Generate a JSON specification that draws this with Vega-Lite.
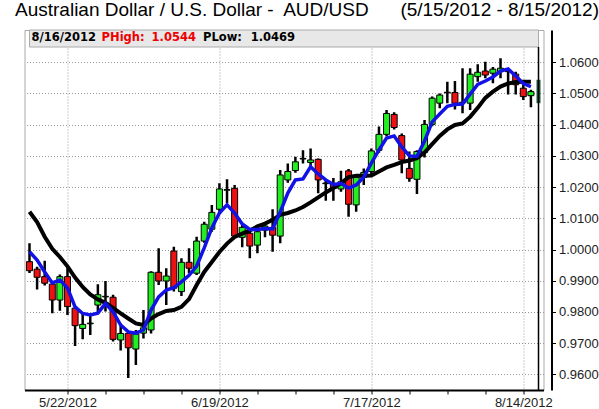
{
  "$schema": "https://vega.github.io/schema/vega-lite/v6.json",
  "width": 519,
  "height": 360,
  "autosize": {"type": "none"},
  "padding": {"left": 24.5, "top": 30, "right": 55.5, "bottom": 19},
  "background": "white",
  "config": {"view": {"stroke": "#aaaaaa", "strokeWidth": 1}, "font": "Liberation Sans", "axis": {"labelOverlap": false, "labelSeparation": 0}},
  "title": {
    "text": "Australian Dollar / U.S. Dollar -\u00a0 AUD/USD\u00a0\u00a0\u00a0\u00a0\u00a0 (5/15/2012 - 8/15/2012)",
    "anchor": "start", "frame": "group", "dx": -9.5, "offset": 10,
    "fontSize": 19, "fontWeight": "normal", "font": "Liberation Sans", "color": "#000000"
  },
  "datasets": {
    "candles": [
      {"i":0,"date":"5/15/2012","o":0.9961,"h":1.0020,"l":0.9925,"c":0.9932,"f":0.9993,"s":1.0121},
      {"i":1,"date":"5/16/2012","o":0.9937,"h":0.9945,"l":0.9872,"c":0.9911,"f":0.9966,"s":1.0088},
      {"i":2,"date":"5/17/2012","o":0.9913,"h":0.9964,"l":0.9885,"c":0.9892,"f":0.9928,"s":1.0041},
      {"i":3,"date":"5/18/2012","o":0.9889,"h":0.9897,"l":0.9796,"c":0.9838,"f":0.9893,"s":1.0002},
      {"i":4,"date":"5/21/2012","o":0.9838,"h":0.9920,"l":0.9804,"c":0.9913,"f":0.9902,"s":0.9976},
      {"i":5,"date":"5/22/2012","o":0.9913,"h":0.9940,"l":0.9790,"c":0.9817,"f":0.9877,"s":0.9946},
      {"i":6,"date":"5/23/2012","o":0.9812,"h":0.9815,"l":0.9691,"c":0.9756,"f":0.9816,"s":0.9910},
      {"i":7,"date":"5/24/2012","o":0.9747,"h":0.9796,"l":0.9712,"c":0.9760,"f":0.9795,"s":0.9880},
      {"i":8,"date":"5/25/2012","o":0.9762,"h":0.9796,"l":0.9726,"c":0.9764,"f":0.9790,"s":0.9856},
      {"i":9,"date":"5/28/2012","o":0.9822,"h":0.9889,"l":0.9798,"c":0.9855,"f":0.9796,"s":0.9840},
      {"i":10,"date":"5/29/2012","o":0.9848,"h":0.9899,"l":0.9801,"c":0.9850,"f":0.9827,"s":0.9829},
      {"i":11,"date":"5/30/2012","o":0.9847,"h":0.9855,"l":0.9705,"c":0.9712,"f":0.9800,"s":0.9813},
      {"i":12,"date":"5/31/2012","o":0.9710,"h":0.9763,"l":0.9676,"c":0.9731,"f":0.9758,"s":0.9795},
      {"i":13,"date":"6/1/2012","o":0.9731,"h":0.9737,"l":0.9588,"c":0.9685,"f":0.9736,"s":0.9779},
      {"i":14,"date":"6/4/2012","o":0.9681,"h":0.9742,"l":0.9630,"c":0.9729,"f":0.9732,"s":0.9763},
      {"i":15,"date":"6/5/2012","o":0.9732,"h":0.9806,"l":0.9715,"c":0.9749,"f":0.9742,"s":0.9758},
      {"i":16,"date":"6/6/2012","o":0.9742,"h":0.9930,"l":0.9731,"c":0.9927,"f":0.9806,"s":0.9779},
      {"i":17,"date":"6/7/2012","o":0.9927,"h":1.0004,"l":0.9886,"c":0.9899,"f":0.9848,"s":0.9793},
      {"i":18,"date":"6/8/2012","o":0.9899,"h":0.9940,"l":0.9822,"c":0.9915,"f":0.9870,"s":0.9803},
      {"i":19,"date":"6/11/2012","o":0.9995,"h":1.0009,"l":0.9865,"c":0.9876,"f":0.9878,"s":0.9806},
      {"i":20,"date":"6/12/2012","o":0.9865,"h":0.9972,"l":0.9851,"c":0.9959,"f":0.9896,"s":0.9816},
      {"i":21,"date":"6/13/2012","o":0.9959,"h":1.0004,"l":0.9924,"c":0.9940,"f":0.9917,"s":0.9841},
      {"i":22,"date":"6/14/2012","o":0.9924,"h":1.0041,"l":0.9918,"c":1.0027,"f":0.9947,"s":0.9886},
      {"i":23,"date":"6/15/2012","o":1.0027,"h":1.0089,"l":1.0022,"c":1.0081,"f":1.0005,"s":0.9928},
      {"i":24,"date":"6/18/2012","o":1.0065,"h":1.0143,"l":1.0057,"c":1.0119,"f":1.0069,"s":0.9960},
      {"i":25,"date":"6/19/2012","o":1.0129,"h":1.0212,"l":1.0121,"c":1.0194,"f":1.0117,"s":0.9992},
      {"i":26,"date":"6/20/2012","o":1.0190,"h":1.0225,"l":1.0148,"c":1.0192,"f":1.0143,"s":1.0019},
      {"i":27,"date":"6/21/2012","o":1.0196,"h":1.0207,"l":1.0040,"c":1.0043,"f":1.0117,"s":1.0040},
      {"i":28,"date":"6/22/2012","o":1.0039,"h":1.0079,"l":1.0007,"c":1.0071,"f":1.0082,"s":1.0051},
      {"i":29,"date":"6/25/2012","o":1.0052,"h":1.0056,"l":0.9972,"c":1.0011,"f":1.0064,"s":1.0061},
      {"i":30,"date":"6/26/2012","o":1.0014,"h":1.0073,"l":0.9988,"c":1.0057,"f":1.0064,"s":1.0074},
      {"i":31,"date":"6/27/2012","o":1.0062,"h":1.0084,"l":1.0039,"c":1.0075,"f":1.0067,"s":1.0083},
      {"i":32,"date":"6/28/2012","o":1.0071,"h":1.0129,"l":0.9993,"c":1.0046,"f":1.0066,"s":1.0095},
      {"i":33,"date":"6/29/2012","o":1.0043,"h":1.0255,"l":1.0020,"c":1.0239,"f":1.0120,"s":1.0111},
      {"i":34,"date":"7/2/2012","o":1.0223,"h":1.0276,"l":1.0214,"c":1.0250,"f":1.0181,"s":1.0117},
      {"i":35,"date":"7/3/2012","o":1.0253,"h":1.0297,"l":1.0246,"c":1.0281,"f":1.0223,"s":1.0125},
      {"i":36,"date":"7/4/2012","o":1.0290,"h":1.0318,"l":1.0276,"c":1.0292,"f":1.0226,"s":1.0136},
      {"i":37,"date":"7/5/2012","o":1.0279,"h":1.0324,"l":1.0265,"c":1.0287,"f":1.0265,"s":1.0151},
      {"i":38,"date":"7/6/2012","o":1.0289,"h":1.0292,"l":1.0180,"c":1.0223,"f":1.0242,"s":1.0167},
      {"i":39,"date":"7/9/2012","o":1.0211,"h":1.0225,"l":1.0156,"c":1.0213,"f":1.0223,"s":1.0183},
      {"i":40,"date":"7/10/2012","o":1.0212,"h":1.0229,"l":1.0156,"c":1.0196,"f":1.0208,"s":1.0197},
      {"i":41,"date":"7/11/2012","o":1.0194,"h":1.0252,"l":1.0185,"c":1.0217,"f":1.0212,"s":1.0212},
      {"i":42,"date":"7/12/2012","o":1.0252,"h":1.0258,"l":1.0105,"c":1.0145,"f":1.0197,"s":1.0232},
      {"i":43,"date":"7/13/2012","o":1.0143,"h":1.0236,"l":1.0121,"c":1.0231,"f":1.0207,"s":1.0236},
      {"i":44,"date":"7/16/2012","o":1.0231,"h":1.0260,"l":1.0207,"c":1.0247,"f":1.0232,"s":1.0236},
      {"i":45,"date":"7/17/2012","o":1.0250,"h":1.0324,"l":1.0240,"c":1.0316,"f":1.0277,"s":1.0237},
      {"i":46,"date":"7/18/2012","o":1.0318,"h":1.0394,"l":1.0310,"c":1.0369,"f":1.0319,"s":1.0250},
      {"i":47,"date":"7/19/2012","o":1.0369,"h":1.0447,"l":1.0363,"c":1.0436,"f":1.0357,"s":1.0263},
      {"i":48,"date":"7/20/2012","o":1.0433,"h":1.0440,"l":1.0385,"c":1.0391,"f":1.0364,"s":1.0271},
      {"i":49,"date":"7/23/2012","o":1.0365,"h":1.0372,"l":1.0244,"c":1.0287,"f":1.0329,"s":1.0280},
      {"i":50,"date":"7/24/2012","o":1.0260,"h":1.0314,"l":1.0217,"c":1.0228,"f":1.0300,"s":1.0285},
      {"i":51,"date":"7/25/2012","o":1.0225,"h":1.0318,"l":1.0178,"c":1.0314,"f":1.0298,"s":1.0293},
      {"i":52,"date":"7/26/2012","o":1.0311,"h":1.0415,"l":1.0295,"c":1.0401,"f":1.0348,"s":1.0311},
      {"i":53,"date":"7/27/2012","o":1.0401,"h":1.0490,"l":1.0395,"c":1.0485,"f":1.0409,"s":1.0338},
      {"i":54,"date":"7/30/2012","o":1.0469,"h":1.0500,"l":1.0453,"c":1.0495,"f":1.0434,"s":1.0364},
      {"i":55,"date":"7/31/2012","o":1.0502,"h":1.0538,"l":1.0469,"c":1.0504,"f":1.0459,"s":1.0385},
      {"i":56,"date":"8/1/2012","o":1.0503,"h":1.0540,"l":1.0449,"c":1.0469,"f":1.0465,"s":1.0399},
      {"i":57,"date":"8/2/2012","o":1.0470,"h":1.0581,"l":1.0437,"c":1.0472,"f":1.0466,"s":1.0404},
      {"i":58,"date":"8/3/2012","o":1.0469,"h":1.0581,"l":1.0447,"c":1.0562,"f":1.0498,"s":1.0425},
      {"i":59,"date":"8/6/2012","o":1.0554,"h":1.0594,"l":1.0538,"c":1.0568,"f":1.0529,"s":1.0454},
      {"i":60,"date":"8/7/2012","o":1.0572,"h":1.0602,"l":1.0549,"c":1.0559,"f":1.0540,"s":1.0486},
      {"i":61,"date":"8/8/2012","o":1.0565,"h":1.0585,"l":1.0533,"c":1.0578,"f":1.0553,"s":1.0506},
      {"i":62,"date":"8/9/2012","o":1.0570,"h":1.0613,"l":1.0549,"c":1.0581,"f":1.0572,"s":1.0522},
      {"i":63,"date":"8/10/2012","o":1.0575,"h":1.0581,"l":1.0497,"c":1.0570,"f":1.0579,"s":1.0532},
      {"i":64,"date":"8/13/2012","o":1.0562,"h":1.0570,"l":1.0497,"c":1.0528,"f":1.0556,"s":1.0537},
      {"i":65,"date":"8/14/2012","o":1.0517,"h":1.0528,"l":1.0479,"c":1.0490,"f":1.0532,"s":1.0538},
      {"i":66,"date":"8/15/2012","o":1.0493,"h":1.0512,"l":1.0456,"c":1.0506,"f":1.0522,"s":1.0538}
    ],
    "projection": [{"i":67,"date":"8/16/2012","lo":1.0469,"hi":1.0544}],
    "header": [
      {"t":"8/16/2012","x":0.26,"p":"k"},
      {"t":"PHigh:","x":9.49,"p":"r"},
      {"t":"1.0544","x":16.07,"p":"r"},
      {"t":"PLow:","x":22.85,"p":"k"},
      {"t":"1.0469","x":29.11,"p":"k"}
    ]
  },
  "layer": [
    {
      "data": {"name": "candles"},
      "mark": {"type": "rule", "color": "#000000", "strokeWidth": 2.5, "clip": true},
      "encoding": {
        "x": {"field": "i", "type": "quantitative", "title": null,
          "scale": {"domain": [0, 67], "nice": false, "zero": false},
          "axis": {
            "values": [5,10,15,20,25,30,35,40,45,50,55,60,65],
            "labelExpr": "datum.value==5?'5/22/2012':datum.value==25?'6/19/2012':datum.value==45?'7/17/2012':datum.value==65?'8/14/2012':''",
            "grid": true,
            "gridOpacity": {"condition": {"test": "datum.value==5||datum.value==25||datum.value==45||datum.value==65", "value": 1}, "value": 0},
            "gridColor": "#999999", "gridDash": [1, 2],
            "domainColor": "#000000", "domainWidth": 2,
            "tickColor": "#000000", "tickSize": 4,
            "labelFont": "Liberation Sans", "labelFontSize": 13, "labelColor": "#222222",
            "labelPadding": 2, "labelOverlap": false, "labelBound": false, "labelFlush": false
          }
        },
        "y": {"field": "l", "type": "quantitative", "title": null,
          "scale": {"domain": [0.95497, 1.07035], "nice": false, "zero": false},
          "axis": {
            "orient": "right", "offset": 8,
            "values": [0.96,0.97,0.98,0.99,1.0,1.01,1.02,1.03,1.04,1.05,1.06],
            "tickCount": 11,
            "format": ".4f",
            "grid": true, "gridColor": "#999999", "gridDash": [1, 2],
            "domainColor": "#000000", "domainWidth": 2,
            "tickColor": "#000000", "tickSize": 4,
            "labelFont": "Liberation Sans", "labelFontSize": 13, "labelColor": "#222222",
            "labelPadding": 3, "labelOverlap": false, "labelSeparation": 0, "labelFlush": false, "labelBound": false
          }
        },
        "y2": {"field": "h"}
      }
    },
    {
      "data": {"name": "candles"},
      "mark": {"type": "bar", "width": 6, "stroke": "#000000", "strokeWidth": 1, "clip": true},
      "encoding": {
        "x": {"field": "i", "type": "quantitative", "title": null},
        "y": {"field": "o", "type": "quantitative", "title": null, "axis": {"orient": "right"}},
        "y2": {"field": "c"},
        "color": {"condition": {"test": "datum.c >= datum.o", "value": "#22ee22"}, "value": "#ee1111"}
      }
    },
    {
      "data": {"name": "candles"},
      "mark": {"type": "line", "color": "#000000", "strokeWidth": 4, "clip": true},
      "encoding": {
        "x": {"field": "i", "type": "quantitative", "title": null},
        "y": {"field": "s", "type": "quantitative", "title": null, "axis": {"orient": "right"}}
      }
    },
    {
      "data": {"name": "candles"},
      "mark": {"type": "line", "color": "#1212e6", "strokeWidth": 3.5, "clip": true},
      "encoding": {
        "x": {"field": "i", "type": "quantitative", "title": null},
        "y": {"field": "f", "type": "quantitative", "title": null, "axis": {"orient": "right"}}
      }
    },
    {
      "data": {"values": [{}]},
      "mark": {"type": "rect", "fill": "#e8e8e8", "stroke": "#aaaaaa", "strokeWidth": 1},
      "encoding": {
        "x": {"datum": 0, "type": "quantitative", "title": null},
        "x2": {"datum": 67},
        "y": {"datum": 1.0649, "type": "quantitative", "title": null, "axis": {"orient": "right"}},
        "y2": {"datum": 1.07035}
      }
    },
    {
      "data": {"name": "header"},
      "mark": {"type": "text", "align": "left", "baseline": "middle", "font": "DejaVu Sans", "fontWeight": "bold", "fontSize": 11.5},
      "encoding": {
        "x": {"field": "x", "type": "quantitative", "title": null},
        "y": {"datum": 1.06763, "type": "quantitative", "title": null, "axis": {"orient": "right"}},
        "text": {"field": "t"},
        "color": {"field": "p", "type": "nominal", "scale": {"domain": ["k", "r"], "range": ["#000000", "#ee0000"]}, "legend": null}
      }
    },
    {
      "data": {"name": "projection"},
      "mark": {"type": "bar", "width": 4, "color": "#1e5a3c"},
      "encoding": {
        "x": {"field": "i", "type": "quantitative", "title": null},
        "y": {"field": "lo", "type": "quantitative", "title": null, "axis": {"orient": "right"}},
        "y2": {"field": "hi"}
      }
    },
    {
      "data": {"values": [{}]},
      "mark": {"type": "rule", "color": "#000000", "strokeWidth": 1.5},
      "encoding": {
        "x": {"datum": 67, "type": "quantitative", "title": null},
        "y": {"datum": 1.0649, "type": "quantitative", "title": null, "axis": {"orient": "right"}},
        "y2": {"datum": 0.95497}
      }
    }
  ]
}
